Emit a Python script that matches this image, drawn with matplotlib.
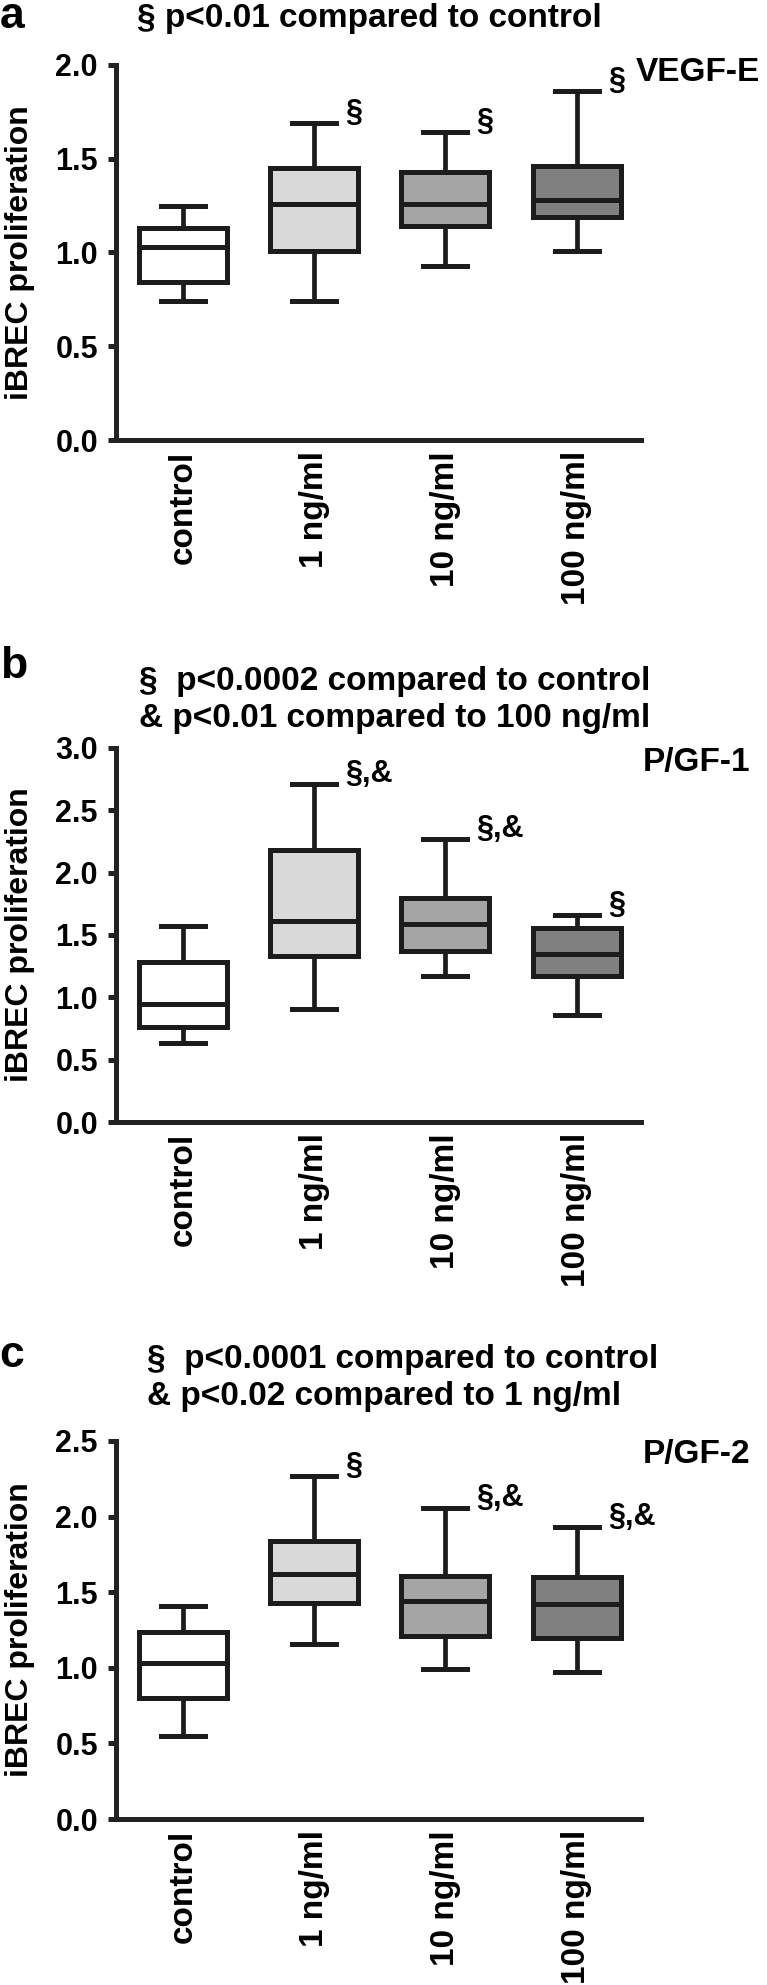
import matplotlib
matplotlib.use("Agg")
import matplotlib.pyplot as plt
import numpy as np

plt.rcParams['font.family'] = ['Liberation Sans', 'DejaVu Sans']
plt.rcParams['font.weight'] = 'bold'

groups = ["control", "1 ng/ml", "10 ng/ml", "100 ng/ml"]
box_colors = ["#ffffff", "#d9d9d9", "#a5a5a5", "#808080"]

# panel a - VEGF-E
vegf_lo = [0.74, 0.74, 0.93, 1.01]
vegf_q1 = [0.84, 1.01, 1.14, 1.19]
vegf_med = [1.03, 1.26, 1.26, 1.28]
vegf_q3 = [1.13, 1.45, 1.43, 1.46]
vegf_hi = [1.25, 1.69, 1.64, 1.86]
vegf_marks = ["", "§", "§", "§"]

# panel b - PlGF-1
plgf1_lo = [0.63, 0.91, 1.17, 0.86]
plgf1_q1 = [0.76, 1.33, 1.37, 1.17]
plgf1_med = [0.95, 1.61, 1.59, 1.35]
plgf1_q3 = [1.28, 2.18, 1.80, 1.56]
plgf1_hi = [1.57, 2.71, 2.27, 1.66]
plgf1_marks = ["", "§,&", "§,&", "§"]

# panel c - PlGF-2
plgf2_lo = [0.55, 1.16, 0.99, 0.97]
plgf2_q1 = [0.80, 1.43, 1.21, 1.20]
plgf2_med = [1.03, 1.62, 1.44, 1.42]
plgf2_q3 = [1.24, 1.84, 1.61, 1.60]
plgf2_hi = [1.41, 2.27, 2.06, 1.93]
plgf2_marks = ["", "§", "§,&", "§,&"]

W, H = 767, 1985
fig = plt.figure(figsize=(W / 100, H / 100), dpi=100)

edge = "#1c1c1c"


def px(x0, y_top, x1, y_bot):
    # pixel box -> figure fraction rect
    return [x0 / W, 1 - y_bot / H, (x1 - x0) / W, (y_bot - y_top) / H]


def panel(rect, lo, q1, med, q3, hi, marks, ymax, name, name_y):
    ax = fig.add_axes(rect)
    stats = [dict(whislo=a, q1=b, med=c, q3=d, whishi=e, fliers=[])
             for a, b, c, d, e in zip(lo, q1, med, q3, hi)]
    pos = np.arange(1, len(groups) + 1)
    res = ax.bxp(stats, positions=pos, widths=0.67, patch_artist=True,
                 showfliers=False,
                 boxprops=dict(edgecolor=edge, linewidth=3.6),
                 whiskerprops=dict(color=edge, linewidth=3.4),
                 capprops=dict(color=edge, linewidth=3.6),
                 medianprops=dict(color=edge, linewidth=3.6))
    for patch, c in zip(res['boxes'], box_colors):
        patch.set_facecolor(c)

    for p, top, m in zip(pos, hi, marks):
        if m:
            ax.annotate(m, xy=(p, top), xytext=(31, 10),
                        textcoords='offset pixels', ha='left', va='center',
                        fontsize=22, fontweight='bold', annotation_clip=False)

    ticks = np.arange(0, ymax + 0.01, 0.5)
    ax.set_xlim(0.49, 4.49)
    ax.set_ylim(0, ymax)
    ax.set_yticks(ticks)
    ax.set_yticklabels(["%.1f" % v for v in ticks])
    ax.set_xticks(pos)
    ax.set_xticklabels(groups, rotation=90, fontsize=24)
    for s in ['top', 'right']:
        ax.spines[s].set_visible(False)
    for s in ['left', 'bottom']:
        ax.spines[s].set_linewidth(3.6)
        ax.spines[s].set_color("#222222")
    ax.tick_params(axis='y', length=6, width=3.6, color="#222222",
                   labelsize=22, pad=7)
    ax.tick_params(axis='x', length=0, pad=8)
    ax.text(-0.183, 0.5, "iBREC proliferation", transform=ax.transAxes,
            rotation=90, ha='center', va='center', fontsize=23,
            fontweight='bold')
    ax.text(1.0, name_y, name, transform=ax.transAxes, ha='left',
            va='center', fontsize=24, fontweight='bold')
    return ax


axa = panel(px(116, 65, 641, 440), vegf_lo, vegf_q1, vegf_med, vegf_q3,
            vegf_hi, vegf_marks, 2.0, "VEGF-E", 0.979)
axa.texts[-1].set_x(520 / 525)

axb = panel(px(116, 748, 641, 1122), plgf1_lo, plgf1_q1, plgf1_med, plgf1_q3,
            plgf1_hi, plgf1_marks, 3.0, "P/GF-1", 0.96)
axb.texts[-1].set_x(527 / 525)

axc = panel(px(116, 1441, 641, 1819), plgf2_lo, plgf2_q1, plgf2_med, plgf2_q3,
            plgf2_hi, plgf2_marks, 2.5, "P/GF-2", 0.963)
axc.texts[-1].set_x(527 / 525)

# panel letters
for letter, x, y in [("a", 12, 17), ("b", 14, 666), ("c", 12, 1355)]:
    fig.text(x / W, 1 - y / H, letter, ha='center', va='center',
             fontsize=32, fontweight='bold')

# significance notes
notes = [
    (137, 18, "§ p<0.01 compared to control"),
    (139, 681, "§  p<0.0002 compared to control"),
    (139, 718, "& p<0.01 compared to 100 ng/ml"),
    (147, 1359, "§  p<0.0001 compared to control"),
    (147, 1396, "& p<0.02 compared to 1 ng/ml"),
]
for x, y, s in notes:
    fig.text(x / W, 1 - y / H, s, ha='left', va='center',
             fontsize=24, fontweight='bold')

fig.savefig("out.png", dpi=100)
